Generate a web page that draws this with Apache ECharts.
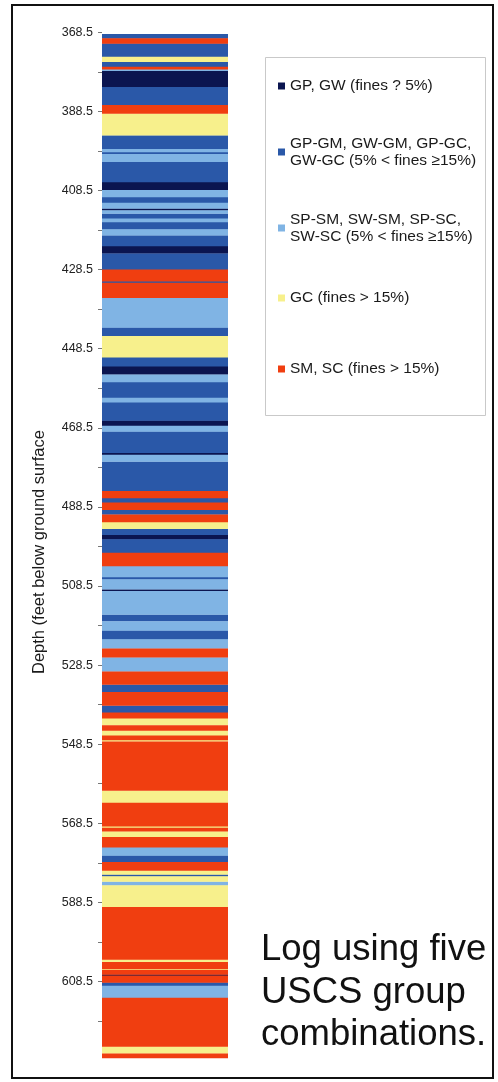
<!DOCTYPE html>
<html>
<head>
<meta charset="utf-8">
<script src="https://cdn.jsdelivr.net/npm/echarts@6/dist/echarts.min.js"></script>
<style>
  html, body { margin: 0; padding: 0; background: #ffffff; }
  #chart { width: 498px; height: 1082px; }
</style>
</head>
<body>
<div id="chart"></div>
<script>
// Boring log: top of each layer (feet below ground surface) and its USCS group.
const layerTop = [
  368.9, 370.0, 371.3, 374.7, 375.9, 377.2, 377.8, 378.2, 382.3, 386.9,
  389.0, 394.5, 398.0, 398.7, 399.3, 401.2, 406.3, 408.4, 410.1, 411.6,
  413.0, 413.5, 414.3, 415.6, 416.4, 418.3, 419.8, 422.5, 424.4, 428.5,
  431.4, 431.8, 435.6, 443.1, 445.3, 450.6, 452.9, 455.0, 456.9, 460.9,
  462.0, 466.6, 468.0, 469.4, 474.8, 475.3, 477.0, 484.5, 486.2, 487.4,
  489.2, 490.4, 492.3, 494.0, 495.5, 496.7, 500.1, 503.4, 506.2, 506.8,
  509.3, 509.8, 515.7, 517.4, 519.7, 522.0, 524.3, 526.5, 530.1, 533.4,
  535.3, 538.7, 540.5, 541.9, 543.7, 545.0, 546.3, 547.4, 547.8, 560.2,
  563.3, 569.2, 569.6, 570.5, 572.0, 574.5, 576.6, 578.3, 580.4, 581.4,
  581.9, 583.2, 584.2, 589.7, 602.9, 603.6, 605.3, 605.6, 606.7, 607.0,
  608.7, 609.6, 612.6, 624.9, 626.7
];
// 0 GP/GW, 1 GP-GM group, 2 SP-SM group, 3 GC, 4 SM/SC
const layerUnit = [
  1, 4, 1, 3, 1, 4, 2, 0, 1, 4,
  3, 1, 2, 1, 2, 1, 0, 2, 1, 2,
  0, 2, 1, 2, 1, 2, 1, 0, 1, 4,
  1, 4, 2, 1, 3, 1, 0, 2, 1, 2,
  1, 0, 2, 1, 0, 2, 1, 4, 1, 4,
  1, 4, 3, 1, 0, 1, 4, 2, 1, 2,
  0, 2, 1, 2, 1, 2, 4, 2, 4, 1,
  4, 1, 4, 3, 4, 3, 4, 3, 4, 3,
  4, 3, 4, 3, 4, 2, 1, 4, 3, 1,
  3, 2, 3, 4, 3, 4, 3, 4, 0, 4,
  1, 2, 4, 3, 4
];
const boreBottom = 627.8;

const unitNames = [
  'GP, GW (fines ? 5%)',
  'GP-GM, GW-GM, GP-GC,\nGW-GC (5% < fines \u226515%)',
  'SP-SM, SW-SM, SP-SC,\nSW-SC (5% < fines \u226515%)',
  'GC (fines > 15%)',
  'SM, SC (fines > 15%)'
];
const unitColors = ['#0b1550', '#2a58a8', '#80b4e4', '#f7f08c', '#f03e10'];

const depthLabels = [368.5, 388.5, 408.5, 428.5, 448.5, 468.5, 488.5,
                     508.5, 528.5, 548.5, 568.5, 588.5, 608.5];
const depthTicks = [368.5, 378.5, 388.5, 398.5, 408.5, 418.5, 428.5, 438.5, 448.5,
                    458.5, 468.5, 478.5, 488.5, 498.5, 508.5, 518.5, 528.5, 538.5,
                    548.5, 558.5, 568.5, 578.5, 588.5, 598.5, 608.5, 618.5];

const axisTitle = 'Depth (feet below ground surface';
const caption = 'Log using five\nUSCS group\ncombinations.';

const FONT = '"Liberation Sans", Arial, Helvetica, sans-serif';

// One custom series per USCS group; each layer is a full-width band between its top and base.
function renderLayer(params, api) {
  const p0 = api.coord([0, api.value(1)]);
  const p1 = api.coord([1, api.value(2)]);
  return {
    type: 'rect',
    shape: { x: p0[0], y: p0[1], width: p1[0] - p0[0], height: p1[1] - p0[1] + 0.4 },
    style: { fill: api.visual('color') }
  };
}

const series = unitNames.map((name, u) => {
  const data = [];
  layerTop.forEach((top, i) => {
    if (layerUnit[i] !== u) return;
    const base = i + 1 < layerTop.length ? layerTop[i + 1] : boreBottom;
    data.push([0.5, top, base]);
  });
  return {
    type: 'custom',
    name,
    renderItem: renderLayer,
    encode: { x: 0, y: [1, 2] },
    itemStyle: { color: unitColors[u] },
    data,
    silent: true,
    animation: false
  };
});

// Legend entries stacked inside the boxed key; two-line names keep the swatch on the first line.
const legendTops = [77.5, 126.5, 202.5, 289.5, 360.5];
const legends = unitNames.map((name, u) => {
  const twoLine = name.indexOf('\n') >= 0;
  return {
    orient: 'vertical',
    left: 278,
    top: legendTops[u],
    padding: 0,
    icon: 'rect',
    itemWidth: 7,
    itemHeight: 7,
    selectedMode: false,
    data: [{
      name,
      textStyle: twoLine ? { padding: [17, 0, 0, 0] } : {}
    }],
    textStyle: { fontFamily: FONT, fontSize: 15.5, lineHeight: 17, color: '#1a1a1a' }
  };
});

const chart = echarts.init(document.getElementById('chart'), null, { renderer: 'canvas' });
chart.setOption({
  backgroundColor: '#ffffff',
  animation: false,
  title: {
    text: caption,
    left: 261,
    top: 929,
    padding: 0,
    textStyle: { fontFamily: FONT, fontSize: 36.5, lineHeight: 42.5, fontWeight: 'normal', color: '#111111' }
  },
  legend: legends,
  grid: { left: 102, width: 126, top: 32.3, height: 1025.5, outerBoundsMode: 'none' },
  xAxis: { type: 'value', min: 0, max: 1, show: false },
  yAxis: {
    type: 'value',
    inverse: true,
    min: 368.5,
    max: boreBottom,
    name: axisTitle,
    nameLocation: 'middle',
    nameRotate: 90,
    nameGap: 54,
    nameTextStyle: { fontFamily: FONT, fontSize: 16.5, color: '#1a1a1a', padding: [0, 14, 0, 0] },
    axisLine: { show: false },
    splitLine: { show: false },
    axisTick: { show: true, customValues: depthTicks, length: 4, lineStyle: { color: '#777777' } },
    axisLabel: {
      customValues: depthLabels,
      margin: 9,
      fontFamily: FONT,
      fontSize: 12.5,
      color: '#222222',
      formatter: v => v.toFixed(1)
    }
  },
  graphic: [
    {
      type: 'rect', silent: true, z: -1,
      shape: { x: 265.5, y: 57.5, width: 220, height: 358 },
      style: { fill: '#ffffff', stroke: '#c9c9c9', lineWidth: 1 }
    },
    {
      type: 'rect', silent: true, z: 10,
      shape: { x: 12, y: 5, width: 481, height: 1073 },
      style: { fill: 'none', stroke: '#111111', lineWidth: 2 }
    }
  ],
  series
});
</script>
</body>
</html>
